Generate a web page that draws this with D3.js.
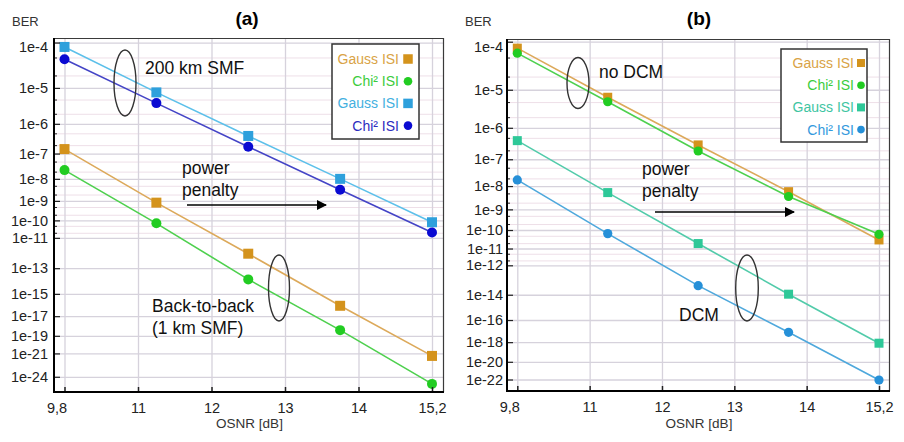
<!DOCTYPE html>
<html>
<head>
<meta charset="utf-8">
<script src="https://cdn.jsdelivr.net/npm/d3@7"></script>
<style>
  body { margin: 0; background: #fff; }
  svg { display: block; }
  text { font-family: "Liberation Sans", Arial, sans-serif; }
</style>
</head>
<body>
<svg id="chart" width="904" height="442"></svg>
<script>
// ---- data ----
const osnr = [9.8, 11.15, 12.5, 13.85, 15.2];                 // OSNR [dB]
const xTickValues = [9.8, 10.88, 11.96, 13.04, 14.12, 15.2];
const xTickLabels = ["9,8", "11", "12", "13", "14", "15,2"];

// (a) 200 km SMF and back-to-back
const berA_gauss200 = [8.2e-5, 7.7e-6, 4.1e-7, 1.0e-8, 7.9e-11];
const berA_chi200   = [4.6e-5, 4.0e-6, 1.75e-7, 3.3e-9, 2.1e-11];
const berA_gaussB2B = [1.45e-7, 8.2e-10, 1.0e-12, 9.2e-17, 5.0e-22];
const berA_chiB2B   = [2.3e-8, 6.9e-11, 1.46e-14, 4.0e-19, 1.0e-25];
const yTicksA = [1e-4, 1e-5, 1e-6, 1e-7, 1e-8, 1e-9, 1e-10, 1e-11, 1e-13, 1e-15, 1e-17, 1e-19, 1e-21, 1e-24];
const yMinorA = [5e-5, 2e-5, 5e-6, 2e-6, 5e-7, 2e-7, 5e-8, 2e-8, 5e-9, 2e-9, 5e-10, 2e-10, 5e-11, 2e-11];

// (b) without and with dispersion compensation
const berB_gaussNoDCM = [7.6e-5, 6.6e-6, 3.0e-7, 5.9e-9, 3.0e-11];
const berB_chiNoDCM   = [6.1e-5, 5.1e-6, 1.9e-7, 3.7e-9, 6.0e-11];
const berB_gaussDCM   = [4.1e-7, 5.4e-9, 1.9e-11, 1.1e-14, 7.9e-19];
const berB_chiDCM     = [1.75e-8, 6.5e-11, 4.5e-14, 8.3e-18, 8.7e-23];
const yTicksB = [1e-4, 1e-5, 1e-6, 1e-7, 1e-8, 1e-9, 1e-10, 1e-11, 1e-12, 1e-14, 1e-16, 1e-18, 1e-20, 1e-22];
const yMinorB = [5e-5, 2e-5, 5e-6, 2e-6, 5e-7, 2e-7, 5e-8, 2e-8, 5e-9, 2e-9, 5e-10, 2e-10, 5e-11, 2e-11, 5e-12, 2e-12];

const legendLabels = ["Gauss ISI", "Chi\u00B2 ISI", "Gauss ISI", "Chi\u00B2 ISI"];

// ---- BER axis: linear in 20*log10(Q) ----
function qFactor(p) {
  // tail inverse of the standard normal (Acklam), valid for small p
  const c = [-7.784894002430293e-03, -3.223964580411365e-01, -2.400758277161838e+00,
             -2.549732539343734e+00, 4.374664141464968e+00, 2.938163982698783e+00];
  const d = [7.784695709041462e-03, 3.224671290700398e-01, 2.445134137142996e+00, 3.754408661907416e+00];
  const q = Math.sqrt(-2 * Math.log(p));
  const x = (((((c[0] * q + c[1]) * q + c[2]) * q + c[3]) * q + c[4]) * q + c[5]) /
            ((((d[0] * q + d[1]) * q + d[2]) * q + d[3]) * q + 1);
  return -x;
}
const qdB = p => 20 * Math.log10(qFactor(p));

function berScale(domain, range) {
  const lin = d3.scaleLinear().domain(domain.map(qdB)).range(range);
  const s = v => lin(qdB(v));
  s.domain = () => domain.slice();
  s.range = () => range.slice();
  s.copy = () => berScale(domain, range);
  return s;
}

const svg = d3.select("#chart");
const expFormat = v => "1e" + Math.round(Math.log10(v));

const orange = { line: "#dca95a", mark: "#d4931c", text: "#d9a346" };
const green  = { line: "#4ed04e", mark: "#22cc22", text: "#3ccc3c" };

const panels = [
  {
    title: "(a)", titleX: 247,
    left: 54, right: 443, top: 38, bottom: 392, x0: 64.5, x1: 432,
    yDomain: [1.22e-4, 6.4e-27], yTicks: yTicksA, yMinor: yMinorA, labelPad: 6,
    series: [
      { values: berA_gaussB2B, shape: "square", ...orange },
      { values: berA_chiB2B, shape: "circle", ...green },
      { values: berA_gauss200, shape: "square", line: "#5cc0ea", mark: "#2ea0dc", text: "#43b0e0" },
      { values: berA_chi200, shape: "circle", line: "#4444c6", mark: "#0a0ad2", text: "#2c2cc0" }
    ],
    legend: { x0: 332, x1: 419, y0: 44, y1: 139, textRight: 399, symX: 408, row0: 59, rowStep: 22.2, size: 14, sq: 9.5, r: 4.3 },
    ellipses: [[125, 83, 11, 33], [279, 288, 10.5, 33]],
    notes: [["200 km SMF", 145, 74], ["power", 182, 174], ["penalty", 182, 196], ["Back-to-back", 152, 312], ["(1 km SMF)", 152, 334]],
    arrow: [187, 326, 205],
    markSq: 10, markR: 5
  },
  {
    title: "(b)", titleX: 699,
    left: 507, right: 889, top: 39, bottom: 391, x0: 517.3, x1: 879,
    yDomain: [1.12e-4, 3.9e-24], yTicks: yTicksB, yMinor: yMinorB, labelPad: 4,
    series: [
      { values: berB_gaussNoDCM, shape: "square", ...orange },
      { values: berB_chiNoDCM, shape: "circle", ...green },
      { values: berB_gaussDCM, shape: "square", line: "#52cbaa", mark: "#2ec898", text: "#3ec5a2" },
      { values: berB_chiDCM, shape: "circle", line: "#4ea8dc", mark: "#2690d8", text: "#3399dd" }
    ],
    legend: { x0: 781, x1: 867, y0: 49, y1: 142, textRight: 854, symX: 861, row0: 63, rowStep: 22.2, size: 14, sq: 8, r: 3.8 },
    ellipses: [[578, 83, 11, 25.5], [747, 288, 11.3, 33]],
    notes: [["no DCM", 599, 78], ["power", 642, 175], ["penalty", 642, 197], ["DCM", 679, 321]],
    arrow: [655, 794, 212],
    markSq: 9, markR: 4.6
  }
];

// arrowhead used by the "power penalty" arrows
svg.append("defs").append("marker")
  .attr("id", "arrowhead").attr("viewBox", "0 0 10 10")
  .attr("refX", 9).attr("refY", 5)
  .attr("markerWidth", 10).attr("markerHeight", 10)
  .attr("markerUnits", "userSpaceOnUse")
  .attr("orient", "auto")
  .append("path").attr("d", "M0,0 L10,5 L0,10 Z").attr("fill", "#000");

panels.forEach(p => {
  const g = svg.append("g");
  const x = d3.scaleLinear().domain([osnr[0], osnr[osnr.length - 1]]).range([p.x0, p.x1]);
  const y = berScale(p.yDomain, [p.top, p.bottom]);

  // grid
  g.append("g").selectAll("line").data(p.yMinor).join("line")
    .attr("x1", p.left).attr("x2", p.right)
    .attr("y1", d => y(d) + 0.5).attr("y2", d => y(d) + 0.5)
    .attr("stroke", "#eedfe8").attr("stroke-width", 1);
  g.append("g").selectAll("line").data(p.yTicks).join("line")
    .attr("x1", p.left).attr("x2", p.right)
    .attr("y1", d => y(d) + 0.5).attr("y2", d => y(d) + 0.5)
    .attr("stroke", "#d6d2dc").attr("stroke-width", 1.3);
  g.append("g").selectAll("line").data(xTickValues).join("line")
    .attr("x1", d => x(d) + 0.5).attr("x2", d => x(d) + 0.5)
    .attr("y1", p.top).attr("y2", p.bottom)
    .attr("stroke", "#d6d2dc").attr("stroke-width", 1.3);

  // frame (top / right)
  g.append("path")
    .attr("d", `M${p.left},${p.top + 0.5} H${p.right + 0.5} V${p.bottom}`)
    .attr("fill", "none").attr("stroke", "#3a3a3a").attr("stroke-width", 1.2);

  // series
  const line = d3.line().x((d, i) => x(osnr[i])).y(d => y(d));
  p.series.forEach(s => {
    g.append("path").datum(s.values).attr("d", line)
      .attr("fill", "none").attr("stroke", s.line).attr("stroke-width", 1.6);
    const marks = g.append("g").selectAll("*").data(s.values);
    if (s.shape === "square") {
      marks.join("rect")
        .attr("x", (d, i) => x(osnr[i]) - p.markSq / 2).attr("y", d => y(d) - p.markSq / 2)
        .attr("width", p.markSq).attr("height", p.markSq).attr("fill", s.mark);
    } else {
      marks.join("circle")
        .attr("cx", (d, i) => x(osnr[i])).attr("cy", d => y(d)).attr("r", p.markR)
        .attr("fill", s.mark);
    }
  });

  // axes
  const yAxis = d3.axisLeft(y).tickValues(p.yTicks).tickFormat(expFormat)
    .tickSizeInner(-6).tickSizeOuter(0).tickPadding(p.labelPad);
  const ya = g.append("g").attr("transform", `translate(${p.left},0)`).call(yAxis);
  ya.select(".domain").remove();
  ya.selectAll("line").attr("stroke", "#222").attr("stroke-width", 1.2);
  ya.selectAll("text").attr("font-size", 14.5).attr("fill", "#222")
    .attr("font-family", "'Liberation Sans', Arial, sans-serif");
  ya.selectAll(".tick").filter((d, i) => i === 0).select("text").attr("dy", "0.65em");

  const yMinorAxis = d3.axisLeft(y).tickValues(p.yMinor).tickFormat("")
    .tickSizeInner(-3).tickSizeOuter(0);
  const ym = g.append("g").attr("transform", `translate(${p.left},0)`).call(yMinorAxis);
  ym.select(".domain").remove();
  ym.selectAll("line").attr("stroke", "#222").attr("stroke-width", 1);

  const xAxis = d3.axisBottom(x).tickValues(xTickValues)
    .tickFormat((d, i) => xTickLabels[i])
    .tickSizeInner(-5).tickSizeOuter(0).tickPadding(11);
  const xa = g.append("g").attr("transform", `translate(0,${p.bottom})`).call(xAxis);
  xa.select(".domain").remove();
  xa.selectAll("line").attr("stroke", "#222").attr("stroke-width", 1.5);
  xa.selectAll("text").attr("font-size", 14.5).attr("fill", "#222")
    .attr("font-family", "'Liberation Sans', Arial, sans-serif");
  xa.selectAll(".tick").filter((d, i) => i === 0).select("text").attr("dx", -8);

  // left / bottom axis lines
  g.append("path")
    .attr("d", `M${p.left},${p.top} V${p.bottom} H${p.right + 1}`)
    .attr("fill", "none").attr("stroke", "#000").attr("stroke-width", 2);

  // axis titles and panel title
  g.append("text").attr("x", p.left - 42).attr("y", 26).attr("font-size", 13)
    .attr("fill", "#333").text("BER");
  g.append("text").attr("x", (p.left + p.right) / 2 + 1).attr("y", 428).attr("text-anchor", "middle")
    .attr("font-size", 13.5).attr("fill", "#333").text("OSNR [dB]");
  g.append("text").attr("x", p.titleX).attr("y", 25).attr("text-anchor", "middle")
    .attr("font-size", 19).attr("font-weight", "bold").attr("fill", "#000").text(p.title);

  // annotations
  g.selectAll(".ell").data(p.ellipses).join("ellipse")
    .attr("cx", d => d[0]).attr("cy", d => d[1]).attr("rx", d => d[2]).attr("ry", d => d[3])
    .attr("fill", "none").attr("stroke", "#333").attr("stroke-width", 1.4);
  g.selectAll(".note").data(p.notes).join("text")
    .attr("x", d => d[1]).attr("y", d => d[2]).attr("font-size", 17.5).attr("fill", "#111")
    .text(d => d[0]);
  g.append("line")
    .attr("x1", p.arrow[0]).attr("x2", p.arrow[1]).attr("y1", p.arrow[2]).attr("y2", p.arrow[2])
    .attr("stroke", "#000").attr("stroke-width", 1.3).attr("marker-end", "url(#arrowhead)");

  // legend
  const L = p.legend;
  g.append("rect").attr("x", L.x0).attr("y", L.y0).attr("width", L.x1 - L.x0).attr("height", L.y1 - L.y0)
    .attr("fill", "#fff").attr("stroke", "#333").attr("stroke-width", 1.5);
  p.series.forEach((s, i) => {
    const cy = L.row0 + i * L.rowStep;
    g.append("text").attr("x", L.textRight).attr("y", cy).attr("dy", "0.36em")
      .attr("text-anchor", "end").attr("font-size", L.size).attr("fill", s.text)
      .text(legendLabels[i]);
    if (s.shape === "square") {
      g.append("rect").attr("x", L.symX - L.sq / 2).attr("y", cy - L.sq / 2)
        .attr("width", L.sq).attr("height", L.sq).attr("fill", s.mark);
    } else {
      g.append("circle").attr("cx", L.symX).attr("cy", cy).attr("r", L.r).attr("fill", s.mark);
    }
  });
});
</script>
</body>
</html>
